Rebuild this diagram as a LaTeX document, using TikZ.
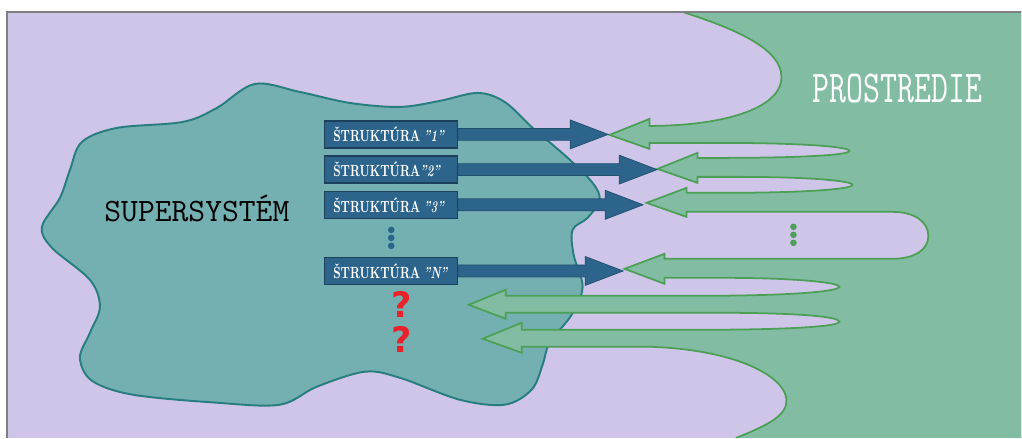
\documentclass[tikz,border=0pt]{standalone}
\usepackage{fontspec}
\usepackage{tikz}
\usetikzlibrary{positioning,calc}
\newfontfamily\qfont{DejaVu Sans}
\definecolor{bg-lavender}{HTML}{CFC5E8}
\definecolor{env-green}{HTML}{82BDA3}
\definecolor{env-line}{HTML}{4CA055}
\definecolor{blob-teal}{HTML}{74B0B2}
\definecolor{blob-line}{HTML}{287D7E}
\definecolor{struk-blue}{HTML}{2D648C}
\definecolor{frame-gray}{HTML}{7F7F7F}
\definecolor{q-red}{HTML}{E8212B}

\begin{document}
\begin{tikzpicture}[x=0.02cm, y=-0.02cm, node distance=0.14cm,
	   strukbox/.style={draw=struk-blue!65!black, line width=0.7pt, fill=struk-blue, text=white,
	     font=\fontsize{9.2}{10}\selectfont\bfseries, minimum height=0.54cm, inner xsep=0.17cm, inner ysep=0pt,
	     text width=2.32cm, align=left},
	   bluearrow/.style={fill=struk-blue, draw=struk-blue!80!black, line width=0.4pt},
	   qmark/.style={text=q-red, font=\fontsize{20}{22}\qfont\bfseries\selectfont, inner sep=0pt}]
	  % background and frame
	  \fill[white] (0,0) rectangle (1022,438);
	  \fill[bg-lavender] (7,12) rectangle (1022,438);
	  % supersystem blob
	  \filldraw[fill=blob-teal, draw=blob-line, line width=1.1pt] plot[smooth cycle, tension=0.55] coordinates {
	    (42,227) (60,198) (70,170) (82,142) (117,128) (183,122) (217,108) (255,84) (300,92)
	    (350,103) (400,107) (440,101) (478,93) (505,102) (533,128) (567,157) (593,183) (600,200)
	    (588,218) (573,230) (574,255) (583,287) (572,315) (550,343) (543,365) (532,390) (505,405)
	    (460,400) (400,378) (365,372) (317,387) (280,405) (217,403) (133,395) (92,381) (80,358)
	    (90,333) (100,307) (90,280) (52,248)};
	  % environment with its arrows
	  \begin{scope}
	    \clip (7,12) rectangle (1022,438);
	    \filldraw[fill=env-green, draw=env-line, line width=1pt]
	      (737,445) -- (737,438) .. controls (770,425) and (788,415) .. (787,400)
	      .. controls (786,378) and (740,350) .. (650,347) -- (522,347)
	      -- (522,353) -- (483,339) -- (522,323) -- (522,330)
	      -- (700,330) .. controls (800,330) and (840,326) .. (840,322) .. controls (840,317) and (800,313) .. (720,313)
	      -- (506,313) -- (506,319) -- (469,305) -- (506,290) -- (506,296)
	      -- (700,296) .. controls (800,296) and (840,291) .. (840,287) .. controls (840,283) and (800,278) .. (720,278)
	      -- (665,278) -- (665,284) -- (625,269) -- (665,254) -- (665,259)
	      -- (893,259) .. controls (915,259) and (929,250) .. (929,236) .. controls (929,222) and (915,212) .. (893,212)
	      -- (687,212) -- (687,217) -- (647,203) -- (687,188) -- (687,193)
	      -- (720,193) .. controls (810,193) and (853,189) .. (853,185) .. controls (853,181) and (810,177) .. (740,177)
	      -- (698,177) -- (698,183) -- (658,169) -- (698,153) -- (698,158)
	      -- (720,158) .. controls (805,158) and (850,155) .. (850,151) .. controls (850,147) and (805,143) .. (720,143)
	      -- (650,143) -- (650,149) -- (610,135) -- (650,119) -- (650,126)
	      .. controls (720,126) and (782,110) .. (782,77) .. controls (782,50) and (740,30) .. (683,12)
	      -- (683,5) -- (1030,5) -- (1030,445) -- cycle;
	  \end{scope}
	  \draw[frame-gray, line width=0.8pt] (7,438) -- (7,12) -- (1022,12);
	  % structures
	  \node[strukbox] at (391.5,134.5) (s1) {\scalebox{0.7}[1]{ŠTRUKTÚRA \textit{"1"}}};
	  \node[strukbox, below=of s1] (s2) {\scalebox{0.7}[1]{ŠTRUKTÚRA\textit{"2"}}};
	  \node[strukbox, below=of s2] (s3) {\scalebox{0.7}[1]{ŠTRUKTÚRA \textit{"3"}}};
	  \node[strukbox, below=0.76cm of s3] (sN) {\scalebox{0.7}[1]{ŠTRUKTÚRA \textit{"N"}}};
	  \foreach \b/\len in {s1/150, s2/199, s3/185, sN/165}
	    \filldraw[bluearrow] (\b.east) ++(0,-6) -- ++({\len-38},0) -- ++(0,-8.5) -- ++(38,14.5)
	      -- ++(-38,14.5) -- ++(0,-8.5) -- ++({38-\len},0) -- cycle;
	  \foreach \d in {-8,0,8}
	    \fill[struk-blue] ($(s3.south)!.5!(sN.north)$) ++(0,\d) circle (0.066cm);
	  \foreach \d in {227,235,243}
	    \fill[env-line] (794,\d) circle (0.066cm);
	  % labels
	  \node[font=\fontsize{18.6}{20}\ttfamily\selectfont, anchor=base] (sup) at (197,222) {SUPERSYSTÉM};
	  \node[font=\fontsize{26}{28}\ttfamily\selectfont, text=white, anchor=base] (env) at (898,103) {\scalebox{0.72}[1]{PROSTREDIE}};
	  \node[qmark] (q1) at (402,305) {?};
	  \node[qmark] (q2) at (402,340) {?};
	\end{tikzpicture}
\end{document}
